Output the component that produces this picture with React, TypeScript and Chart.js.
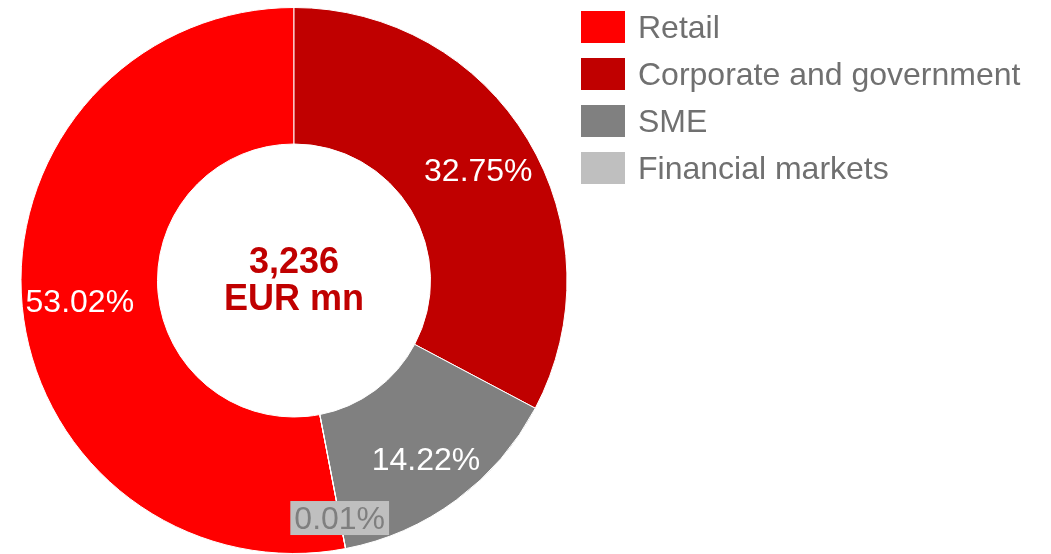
import React, { useEffect, useRef } from "react";
import { Chart, registerables } from "chart.js";

Chart.register(...registerables);

const categories: string[] = ["Retail", "Corporate and government", "SME", "Financial markets"];
const shares: number[] = [53.02, 32.75, 14.22, 0.01];
const sliceColors: string[] = ["#FF0000", "#C00000", "#808080", "#BFBFBF"];
const totalLabel = "3,236";
const unitLabel = "EUR mn";

const FONT = "'Liberation Sans', Arial, Helvetica, sans-serif";

const sliceLabelPlugin = {
  id: "sliceLabels",
  afterDatasetsDraw(chart: any, _args: any, opts: any) {
    const ctx = chart.ctx;
    const meta = chart.getDatasetMeta(0);
    const data = chart.data.datasets[0].data as number[];
    const size = opts.fontSize;
    ctx.save();
    ctx.font = `${size}px ${FONT}`;
    ctx.textAlign = "center";
    ctx.textBaseline = "alphabetic";
    meta.data.forEach((arc: any, i: number) => {
      const p = arc.getProps(["x", "y", "startAngle", "endAngle", "outerRadius"], true);
      const mid = (p.startAngle + p.endAngle) / 2;
      const r = p.outerRadius * opts.radiusFactors[i];
      const px = p.x + Math.cos(mid) * r;
      const py = p.y + Math.sin(mid) * r;
      const text = data[i].toFixed(2) + "%";
      const baseY = py + size * 0.358;
      if (opts.boxed[i]) {
        const w = ctx.measureText(text).width + opts.boxPadX * 2;
        const h = opts.boxHeight;
        ctx.fillStyle = sliceColors[i];
        ctx.fillRect(px - w / 2, py - h / 2, w, h);
        ctx.fillStyle = opts.boxTextColor;
      } else {
        ctx.fillStyle = "#FFFFFF";
      }
      ctx.fillText(text, px, baseY);
    });
    ctx.restore();
  },
};

const centerTextPlugin = {
  id: "centerText",
  afterDatasetsDraw(chart: any, _args: any, opts: any) {
    const ctx = chart.ctx;
    const arc = chart.getDatasetMeta(0).data[0];
    if (!arc) return;
    const { x, y } = arc.getProps(["x", "y"], true);
    ctx.save();
    ctx.font = `bold ${opts.fontSize}px ${FONT}`;
    ctx.fillStyle = "#C00000";
    ctx.textAlign = "center";
    ctx.textBaseline = "alphabetic";
    ctx.fillText(totalLabel, x, y + opts.line1Offset);
    ctx.fillText(unitLabel, x, y + opts.line2Offset);
    ctx.restore();
  },
};

const customLegendPlugin = {
  id: "customLegend",
  afterDraw(chart: any, _args: any, opts: any) {
    const ctx = chart.ctx;
    const labels = chart.data.labels as string[];
    const colors = chart.data.datasets[0].backgroundColor as string[];
    ctx.save();
    ctx.font = `${opts.fontSize}px ${FONT}`;
    ctx.textAlign = "left";
    ctx.textBaseline = "alphabetic";
    labels.forEach((lab, i) => {
      const top = opts.top + i * opts.rowStep;
      ctx.fillStyle = colors[i];
      ctx.fillRect(opts.x, top, opts.boxW, opts.boxH);
      ctx.fillStyle = opts.textColor;
      ctx.fillText(lab, opts.textX, top + opts.boxH / 2 + opts.fontSize * 0.358);
    });
    ctx.restore();
  },
};

export default function App() {
  const canvasRef = useRef<HTMLCanvasElement | null>(null);

  useEffect(() => {
    if (!canvasRef.current) return;
    const sum = shares.reduce((a, b) => a + b, 0);
    const chart = new Chart(canvasRef.current, {
      type: "doughnut",
      data: {
        labels: categories,
        datasets: [
          {
            data: shares,
            backgroundColor: sliceColors,
            borderColor: "#FFFFFF",
            borderWidth: 1,
          },
        ],
      },
      options: {
        responsive: false,
        animation: false,
        devicePixelRatio: 1,
        cutout: "50%",
        rotation: -(shares[0] / sum) * 360,
        layout: { padding: { left: 20, top: 7, right: 1051 - 20 - 548, bottom: 0 } },
        plugins: {
          legend: { display: false },
          tooltip: { enabled: false },
          sliceLabels: {
            fontSize: 32,
            radiusFactors: [0.788, 0.788, 0.813, 0.886],
            boxed: [false, false, false, true],
            boxPadX: 4,
            boxHeight: 34,
            boxTextColor: "#7F7F7F",
          },
          centerText: { fontSize: 36, line1Offset: -8, line2Offset: 29 },
          customLegend: {
            x: 581,
            top: 11,
            boxW: 44,
            boxH: 32,
            rowStep: 47,
            textX: 638,
            fontSize: 32,
            textColor: "#707070",
          },
        } as any,
      },
      plugins: [sliceLabelPlugin, centerTextPlugin, customLegendPlugin],
    });
    return () => chart.destroy();
  }, []);

  return (
    <div style={{ position: "absolute", left: 0, top: 0, width: 1051, height: 554, background: "#FFFFFF" }}>
      <canvas ref={canvasRef} width={1051} height={554} style={{ display: "block" }} />
    </div>
  );
}
